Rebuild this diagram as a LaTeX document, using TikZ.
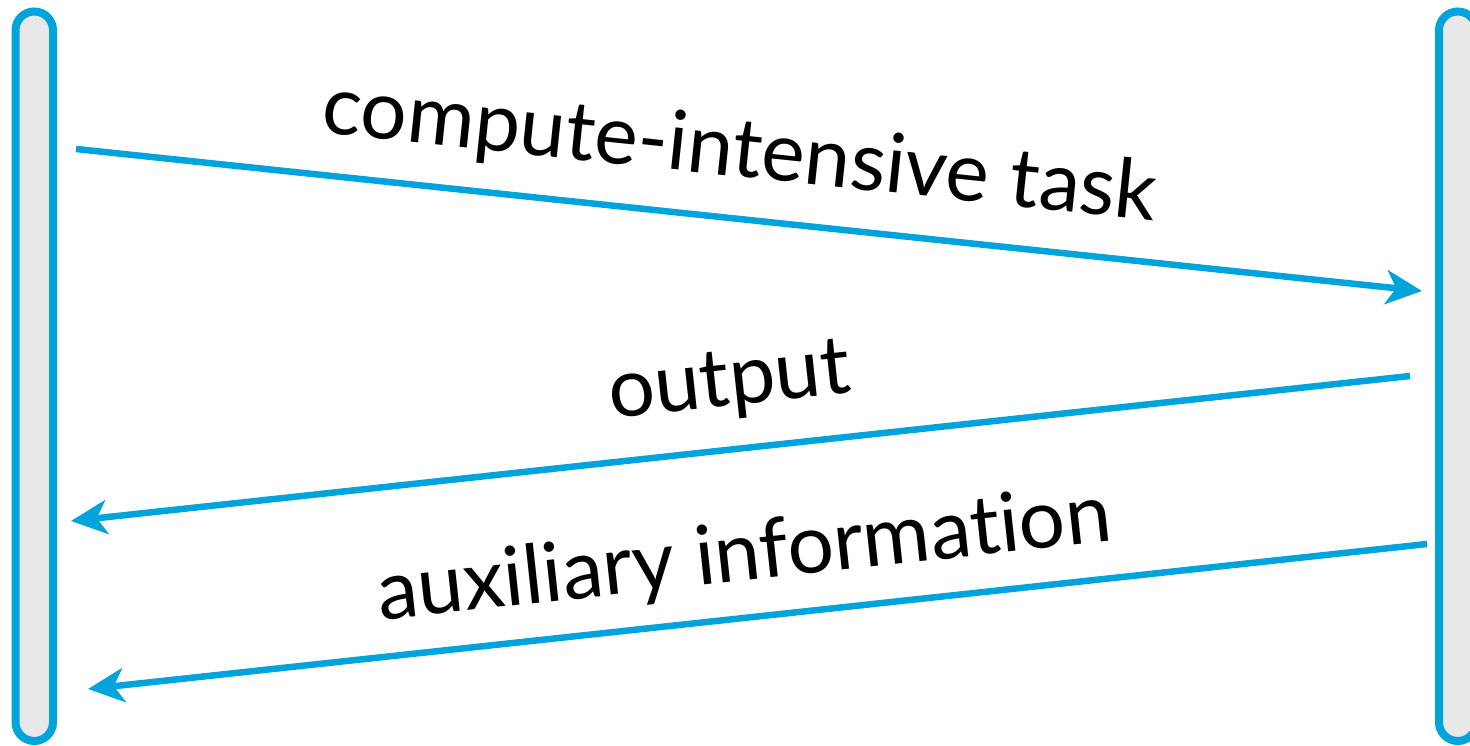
\documentclass[tikz,border=0pt]{standalone}
\usepackage{fontspec}
\setmainfont{Lato}[Ligatures=NoCommon]
\usetikzlibrary{arrows.meta,calc}
\definecolor{lane}{HTML}{00A3DA}
\definecolor{lanefill}{HTML}{E8E8E8}
\begin{document}
\begin{tikzpicture}[x=1pt,y=1pt,
  lifeline/.style={draw=lane,fill=lanefill,line width=8pt,rectangle,
    rounded corners=18.75pt,minimum width=37.5pt,minimum height=729.5pt,inner sep=0pt},
  msg/.style={draw=lane,line width=6.5pt,
    -{Stealth[length=36pt,width=34pt,inset=10pt]}},
  msglabel/.style={font=\fontsize{82}{90}\selectfont,anchor=base,inner sep=0pt}]
\useasboundingbox (0,0) rectangle (1470,746);

% the two endpoints of the exchange
\node[lifeline] (client) at (34.25,369.75) {};
\node[lifeline] (server) at (1457.75,369.75) {};

% message end points
\coordinate (a1) at (76,597);
\coordinate (b1) at (1422,455);
\coordinate (a2) at (1410,370);
\coordinate (b2) at (71,225);
\coordinate (a3) at (1427,202);
\coordinate (b3) at (88,57);

% messages
\draw[msg] (a1) -- (b1);
\draw[msg] (a2) -- (b2);
\draw[msg] (a3) -- (b3);

% labels along the messages
\node[msglabel,rotate=-6.02] (l1) at ($(a1)!0.488!(b1)!42pt!90:(b1)$) {compute-intensive task};
\node[msglabel,rotate=6.18] (l2) at ($(b2)!0.497!(a2)!44pt!90:(a2)$) {output};
\node[msglabel,rotate=6.18] (l3) at ($(b3)!0.495!(a3)!37pt!90:(a3)$) {auxiliary informat\kern0pt ion};
\end{tikzpicture}
\end{document}
